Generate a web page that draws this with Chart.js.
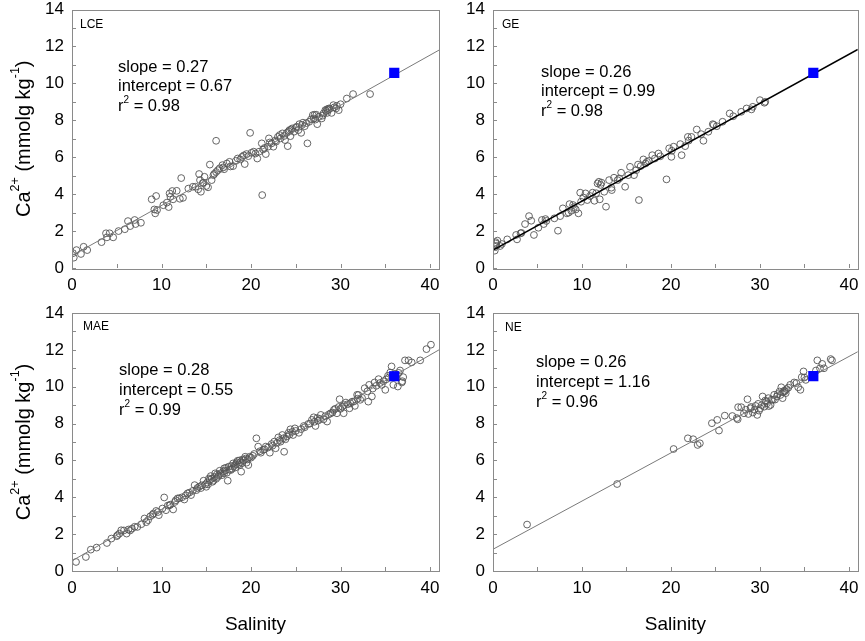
<!DOCTYPE html>
<html><head><meta charset="utf-8">
<script src="https://cdn.jsdelivr.net/npm/chart.js@4.4.1/dist/chart.umd.min.js"></script>
<style>
html,body{margin:0;padding:0;background:#fff;}
#wrap{position:relative;width:865px;height:641px;overflow:hidden;background:#fff;}
canvas{position:absolute;}
</style></head><body>
<div id="wrap">
<canvas id="c1" width="450" height="300" style="left:0;top:0"></canvas>
<canvas id="c2" width="415" height="300" style="left:450px;top:0"></canvas>
<canvas id="c3" width="450" height="341" style="left:0;top:300px"></canvas>
<canvas id="c4" width="415" height="341" style="left:450px;top:300px"></canvas>
</div>
<script>
// ---------- DATA ----------
const xTickLabels = [0, 10, 20, 30, 40];
const yTickLabels = [0, 2, 4, 6, 8, 10, 12, 14];
const xMinorTicks = [0, 5, 10, 15, 20, 25, 30, 35, 40];
const yMinorTicks = [0, 1, 2, 3, 4, 5, 6, 7, 8, 9, 10, 11, 12, 13, 14];
const panelNames = ['LCE', 'GE', 'MAE', 'NE'];

const seawater = [36, 10.57];

const lceStats = [0.27, 0.67, 0.98];
const geStats  = [0.26, 0.99, 0.98];
const maeStats = [0.28, 0.55, 0.99];
const neStats  = [0.26, 1.16, 0.96];

const lceLine = [[0, 0.67], [41, 11.8]];
const geLine  = [[0, 0.97], [41, 11.83]];
const maeLine = [[0, 0.55], [41, 12.0]];
const neLine  = [[0, 1.18], [41, 11.9]];

const lcePoints = [
 [0.1,0.8],[0.2,0.56],[0.5,0.97],[1.0,0.76],[1.3,1.15],[1.7,0.97],[3.3,1.4],[3.8,1.88],[3.9,1.66],[4.2,1.88],
 [4.6,1.66],[5.2,2.0],[5.9,2.1],[6.25,2.54],[6.5,2.27],[7.0,2.6],[7.1,2.38],[7.7,2.45],[8.9,3.72],[9.2,3.17],
 [9.3,2.96],[9.4,3.9],[9.5,3.14],[10.2,3.4],[10.6,3.54],[10.8,3.3],[10.9,4.04],[11.0,3.86],[11.2,4.17],[11.3,3.72],
 [11.7,4.18],[12.05,3.75],[12.2,4.87],[12.4,3.8],[13.0,4.3],[13.5,4.4],[14.1,4.26],[14.2,5.09],[14.3,4.76],[14.4,4.13],
 [14.7,4.62],[14.8,4.94],[15.0,4.44],[15.2,4.37],[15.4,5.6],[15.6,4.76],[15.8,5.03],[16.1,6.89],[16.1,5.2],[16.3,5.3],
 [16.5,5.4],[16.8,5.57],[17.3,5.66],[17.6,5.75],[18.0,5.52],[18.5,5.93],[18.8,5.88],[19.0,6.02],[19.3,5.63],[19.5,6.17],
 [19.7,6.06],[19.9,7.32],[20.05,6.24],[20.3,6.3],[20.7,5.93],[20.9,6.3],[21.2,6.75],[21.25,3.95],[21.35,6.42],[21.65,6.17],
 [21.9,6.57],[22.0,7.02],[22.3,6.75],[22.5,6.57],[22.8,6.84],[23.0,7.1],[23.3,7.02],[23.5,7.29],[23.8,6.93],[24.0,7.32],
 [24.1,6.6],[24.3,7.47],[24.4,7.14],[24.6,7.56],[24.8,7.38],[25.1,7.65],[25.3,7.47],[25.4,7.79],[25.6,7.32],[25.8,7.87],
 [26.0,7.68],[26.3,6.75],[26.5,7.92],[26.9,8.28],[27.2,8.04],[27.4,7.79],[27.6,8.19],[27.9,8.1],[28.1,8.37],[28.3,8.55],
 [28.5,8.4],[28.7,8.64],[29.0,8.4],[29.2,8.82],[29.5,8.64],[29.8,8.55],[30.0,8.87],[30.7,9.18],[31.4,9.42],[33.3,9.42],
 [24.5,7.5],[25.0,7.6],[25.7,7.75],[26.2,7.85],[27.0,8.1],[27.3,8.3],[28.0,8.25],[28.4,8.5],[28.6,8.55],[28.8,8.62],
 [29.3,8.7],[23.2,7.2],[23.7,7.15],[22.7,6.9],[21.5,6.5],[20.5,6.2],[17.0,5.35],[17.7,5.5],[16.9,5.45],[13.8,4.4],
 [14.6,4.6],[15.9,5.1],[19.2,6.1],[18.3,5.8],[22.1,6.8],[24.2,7.4],[26.7,8.05],[27.1,8.3],[28.5,8.6],[29.6,8.78]
];

const gePoints = [
 [0.2,0.94],[0.3,1.33],[0.5,1.48],[0.8,1.19],[0.3,1.4],[0.4,1.2],[1.6,1.55],[2.6,1.79],[2.7,1.55],[3.1,1.88],
 [3.6,2.38],[4.05,2.81],[4.3,2.56],[4.6,1.79],[5.1,2.18],[5.5,2.6],[5.7,2.38],[5.9,2.65],[6.9,2.69],[7.3,2.02],
 [7.55,2.81],[7.85,3.23],[8.3,2.96],[8.6,3.46],[8.8,3.1],[9.0,3.41],[9.3,3.17],[9.6,2.96],[9.8,4.08],[9.9,3.59],
 [10.15,3.82],[10.4,4.04],[10.6,3.68],[11.2,4.08],[11.4,3.64],[11.75,4.58],[11.9,4.67],[12.0,3.72],[12.2,4.62],[12.5,4.13],
 [12.7,3.32],[13.05,4.76],[13.35,4.22],[13.6,4.89],[14.0,4.76],[14.4,5.16],[14.85,4.4],[15.2,5.03],[15.4,5.48],[15.85,5.03],
 [16.1,5.3],[16.4,3.68],[16.6,5.52],[16.9,5.88],[17.15,5.66],[17.5,5.8],[17.9,6.11],[18.2,5.93],[18.6,6.2],[19.5,4.8],
 [19.8,6.48],[20.05,6.02],[20.3,6.57],[21.05,6.71],[21.2,6.11],[21.6,6.6],[21.9,7.1],[22.3,7.1],[22.9,7.5],[23.4,7.25],
 [23.65,6.89],[24.2,7.38],[24.7,7.79],[25.15,7.68],[25.8,7.92],[26.6,8.37],[27.0,8.22],[27.9,8.46],[28.5,8.64],[29.05,8.59],
 [29.2,8.73],[30.0,9.09],[30.5,8.95],[30.6,9.0],[9.1,3.3],[8.5,3.0],[10.9,3.9],[12.1,4.5],[13.3,4.35],[14.2,4.85],
 [16.3,5.6],[17.3,5.75],[18.8,6.05],[20.1,6.35],[22.0,6.9],[24.8,7.75],[11.6,4.05],[6.0,2.55],[3.2,1.9],[1.0,1.3]
];

const maePoints = [
 [0.45,0.49],[1.55,0.76],[2.1,1.16],[2.75,1.27],[3.9,1.52],[4.4,1.76],[5.0,1.89],[5.3,2.03],[5.5,2.21],[6.1,2.03],
 [6.3,2.25],[6.7,2.3],[7.3,2.39],[7.75,2.54],[8.1,2.85],[8.5,2.76],[8.75,2.97],[9.1,3.12],[9.4,3.26],[9.7,3.03],
 [10.1,3.39],[10.3,3.99],[10.5,3.3],[10.9,3.57],[11.3,3.34],[11.6,3.84],[11.8,3.94],[12.55,3.88],[12.9,4.21],[13.3,4.12],
 [13.7,4.66],[13.9,4.39],[14.2,4.57],[14.7,4.9],[15.0,4.57],[15.3,5.02],[15.5,5.15],[15.7,4.84],[16.0,5.3],[16.3,5.11],
 [16.5,5.44],[16.75,5.2],[17.0,5.57],[17.3,5.33],[17.5,5.66],[17.4,4.9],[17.75,5.48],[18.0,5.84],[18.25,5.62],[18.5,5.98],
 [18.75,5.75],[18.9,5.39],[19.05,6.05],[19.35,6.2],[19.5,5.88],[19.7,5.75],[19.85,6.2],[20.35,6.35],[20.6,7.2],[20.8,6.75],
 [21.1,6.42],[21.35,6.57],[21.65,6.75],[22.1,6.42],[22.3,6.89],[22.6,7.02],[22.75,6.66],[23.05,7.25],[23.3,7.02],[23.5,7.38],
 [23.7,6.47],[23.85,7.15],[24.2,7.5],[24.4,7.69],[24.7,7.38],[24.9,7.74],[25.35,7.5],[25.9,7.87],[26.4,7.98],[26.8,8.2],
 [27.0,8.34],[27.2,7.87],[27.5,8.16],[27.8,8.47],[28.1,8.23],[28.5,8.11],[28.9,8.56],[29.25,8.74],[29.6,8.56],[29.9,9.32],
 [30.2,8.92],[30.35,8.56],[30.6,9.14],[31.0,8.83],[31.3,9.19],[31.6,8.96],[31.85,9.56],[32.2,9.29],[32.7,9.92],[33.1,9.19],
 [33.2,10.1],[33.5,9.47],[33.8,10.23],[34.25,10.41],[34.6,10.1],[35.0,9.83],[35.3,10.59],[35.55,10.77],[35.7,11.1],[35.9,10.1],
 [36.2,10.52],[36.4,10.01],[36.65,10.88],[36.85,10.23],[37.0,10.52],[37.2,11.43],[37.6,11.43],[37.95,11.32],[38.9,11.43],[39.6,12.04],
 [40.1,12.28],[5.1,1.95],[5.8,2.2],[9.0,3.05],[9.6,3.2],[10.7,3.55],[12.0,3.95],[13.5,4.35],[14.0,4.5],[14.5,4.65],
 [15.1,4.8],[15.4,4.95],[15.6,5.0],[15.9,5.1],[16.1,5.0],[16.2,5.25],[16.6,5.3],[16.9,5.4],[17.1,5.45],[17.2,5.6],
 [17.6,5.5],[17.8,5.7],[17.9,5.55],[18.1,5.7],[18.3,5.8],[18.4,5.9],[18.6,5.8],[18.7,6.0],[18.8,5.9],[19.0,5.85],
 [19.2,6.0],[19.4,6.1],[19.6,6.05],[20.0,6.15],[20.2,6.25],[21.0,6.5],[21.5,6.6],[21.9,6.7],[22.4,6.8],[22.9,6.95],
 [23.2,7.1],[23.6,7.2],[24.0,7.3],[24.3,7.4],[24.6,7.55],[25.0,7.6],[25.6,7.7],[26.0,7.8],[26.6,8.0],[27.1,8.1],
 [27.4,8.3],[27.7,8.25],[28.3,8.4],[28.7,8.5],[29.1,8.6],[29.4,8.8],[29.8,8.9],[30.0,8.8],[30.4,9.0],[30.8,9.05],
 [31.1,9.1],[31.5,9.2],[31.9,9.35],[32.0,9.55],[32.4,9.4],[33.0,9.75],[33.6,9.9],[34.0,10.05],[34.4,10.2],[34.8,10.3],
 [35.1,10.4],[35.4,10.5],[35.8,10.6],[36.1,10.7],[36.5,10.75],[36.9,10.3],[8.3,2.65],[7.0,2.4],[6.5,2.2],[11.0,3.6],
 [11.5,3.75],[12.3,4.0],[12.7,4.1],[13.1,4.25],[14.4,4.5],[14.9,4.7],[15.2,4.7],[15.8,4.9],[16.4,5.2],[17.0,5.3]
];

const nePoints = [
 [3.83,2.52],[13.95,4.72],[20.3,6.62],[21.9,7.2],[22.5,7.15],[23.0,6.84],[23.25,6.93],[24.6,8.02],[25.2,8.2],[25.4,7.62],
 [26.05,8.43],[26.9,8.41],[27.5,8.23],[27.55,8.89],[27.9,8.89],[28.2,8.56],[28.6,9.32],[28.7,8.52],[28.95,8.83],[29.2,8.6],
 [29.5,8.96],[29.7,8.47],[29.8,9.07],[30.05,8.83],[30.3,9.47],[30.5,8.92],[30.7,9.19],[30.95,9.38],[31.2,9.01],[31.45,9.29],
 [31.6,9.56],[31.9,9.47],[32.2,9.74],[32.4,9.97],[32.55,9.38],[32.75,9.79],[33.0,9.87],[33.4,10.1],[33.85,10.23],[34.3,9.97],
 [34.55,9.83],[34.7,10.52],[34.9,10.83],[35.15,10.37],[36.45,11.43],[36.75,11.0],[37.0,11.24],[37.2,11.0],[37.95,11.5],[38.1,11.43],
 [36.3,10.88],[27.4,8.3],[29.4,8.75],[29.9,8.7],[30.2,9.0],[30.8,9.1],[31.3,9.3],[31.7,9.3],[32.0,9.6],[32.6,9.7],
 [32.8,9.75],[32.9,9.65],[33.2,9.95],[29.0,8.9],[28.4,8.75],[30.6,9.25],[31.0,8.95],[32.3,9.55],[34.1,10.2],[35.0,10.5]
];

// ---------- RENDERING ----------
const FONT = '"Liberation Sans", Arial, Helvetica, sans-serif';
const toXY = arr => arr.map(p => ({x: p[0], y: p[1]}));

function drawParts(ctx, parts, x, y, size, supSize, supRise) {
  let cx = x;
  for (const p of parts) {
    ctx.font = (p.sup ? supSize : size) + 'px ' + FONT;
    ctx.fillText(p.t, cx, p.sup ? y - supRise : y);
    cx += ctx.measureText(p.t).width;
  }
}
function partsWidth(ctx, parts, size, supSize) {
  let w = 0;
  for (const p of parts) {
    ctx.font = (p.sup ? supSize : size) + 'px ' + FONT;
    w += ctx.measureText(p.t).width;
  }
  return w;
}

const decorPlugin = {
  id: 'decor',
  afterDraw(chart, args, o) {
    const ctx = chart.ctx, a = chart.chartArea;
    const xs = chart.scales.x, ys = chart.scales.y;
    ctx.save();
    // frame
    ctx.strokeStyle = '#8a8a8a';
    ctx.lineWidth = 1;
    ctx.strokeRect(Math.round(a.left) + 0.5, Math.round(a.top) + 0.5, Math.round(a.right - a.left), Math.round(a.bottom - a.top));
    // inward ticks
    ctx.beginPath();
    for (const v of xMinorTicks) {
      const px = Math.round(xs.getPixelForValue(v)) + 0.5;
      ctx.moveTo(px, a.bottom); ctx.lineTo(px, a.bottom - 4);
    }
    for (const v of yMinorTicks) {
      const py = Math.round(ys.getPixelForValue(v)) + 0.5;
      ctx.moveTo(a.left, py); ctx.lineTo(a.left + 4, py);
    }
    ctx.stroke();
    ctx.fillStyle = '#000';
    ctx.textBaseline = 'middle';
    ctx.textAlign = 'left';
    // panel label
    ctx.font = '12px ' + FONT;
    ctx.fillText(o.label, a.left + o.lab[0], a.top + o.lab[1]);
    // stats
    const s = o.stats;
    const tx = a.left + o.st[0];
    let ty = a.top + o.st[1];
    ctx.font = '16.5px ' + FONT;
    ctx.fillText('slope = ' + s[0].toFixed(2), tx, ty);
    ty += o.st[2];
    ctx.fillText('intercept = ' + s[1].toFixed(2), tx, ty);
    ty += o.st[2];
    drawParts(ctx, [{t:'r'},{t:'2',sup:true},{t:' = ' + s[2].toFixed(2)}], tx, ty, 16.5, 10, 6);
    // y title
    if (o.yTitle) {
      const parts = [{t:'Ca'},{t:'2+',sup:true},{t:' (mmolg kg'},{t:'-1',sup:true},{t:')'}];
      const w = partsWidth(ctx, parts, 20, 12.5);
      ctx.save();
      ctx.translate(24, (a.top + a.bottom) / 2);
      ctx.rotate(-Math.PI / 2);
      drawParts(ctx, parts, -w / 2, 0, 20, 12.5, 8);
      ctx.restore();
    }
    if (o.xTitle) {
      ctx.font = '19px ' + FONT;
      ctx.textAlign = 'center';
      ctx.fillText('Salinity', (a.left + a.right) / 2, o.xTitleY);
    }
    ctx.restore();
  }
};

const panels = [
  {id:'c1', label:panelNames[0], pts:lcePoints, line:lceLine, stats:lceStats, lineColor:'#7a7a7a', lineW:1,
   yW:72, pad:{left:0,right:11,top:9.5,bottom:0}, xH:32, yTitle:true, xTitle:false, lab:[8,15.5], st:[46,57.5,19.5]},
  {id:'c2', label:panelNames[1], pts:gePoints, line:geLine, stats:geStats, lineColor:'#000', lineW:1.6,
   yW:43, pad:{left:0,right:5,top:9.5,bottom:0}, xH:32, yTitle:false, xTitle:false, lab:[9,15.5], st:[48,62.5,19.5]},
  {id:'c3', label:panelNames[2], pts:maePoints, line:maeLine, stats:maeStats, lineColor:'#7a7a7a', lineW:1,
   yW:72, pad:{left:0,right:11,top:13,bottom:0}, xH:70, yTitle:true, xTitle:true, xTitleY:325, lab:[11,14], st:[47,57,20]},
  {id:'c4', label:panelNames[3], pts:nePoints, line:neLine, stats:neStats, lineColor:'#7a7a7a', lineW:1,
   yW:43, pad:{left:0,right:5,top:13,bottom:0}, xH:70, yTitle:false, xTitle:true, xTitleY:325, lab:[12,15], st:[43,49,20]}
];

for (const p of panels) {
  new Chart(document.getElementById(p.id), {
    type: 'scatter',
    data: {
      datasets: [
        {data: toXY([seawater]), pointStyle: 'rect', pointRadius: 7.2, backgroundColor: '#0000ff', borderColor: '#0000ff', borderWidth: 0, order: 0},
        {data: toXY(p.line), showLine: true, borderColor: p.lineColor, borderWidth: p.lineW, pointRadius: 0, order: 1},
        {data: toXY(p.pts), pointStyle: 'circle', pointRadius: 3.4, backgroundColor: 'rgba(0,0,0,0)', borderColor: '#555', borderWidth: 0.9, order: 2}
      ]
    },
    options: {
      responsive: false,
      animation: false,
      devicePixelRatio: 1,
      layout: {padding: p.pad},
      plugins: {legend: {display: false}, tooltip: {enabled: false}, decor: p},
      scales: {
        x: {
          type: 'linear', min: 0, max: 41,
          grid: {display: false, drawTicks: false},
          border: {display: false},
          afterBuildTicks: s => { s.ticks = xTickLabels.map(v => ({value: v})); },
          afterFit: s => { s.height = p.xH; s.paddingLeft = 0; s.paddingRight = 0; },
          ticks: {color: '#000', font: {family: FONT, size: 17}, padding: 7, maxRotation: 0}
        },
        y: {
          type: 'linear', min: 0, max: 14,
          grid: {display: false, drawTicks: false},
          border: {display: false},
          afterBuildTicks: s => { s.ticks = yTickLabels.map(v => ({value: v})); },
          afterFit: s => { s.width = p.yW; s.paddingTop = 0; s.paddingBottom = 0; },
          ticks: {color: '#000', font: {family: FONT, size: 17}, padding: 8}
        }
      }
    },
    plugins: [decorPlugin]
  });
}
</script>
</body></html>
